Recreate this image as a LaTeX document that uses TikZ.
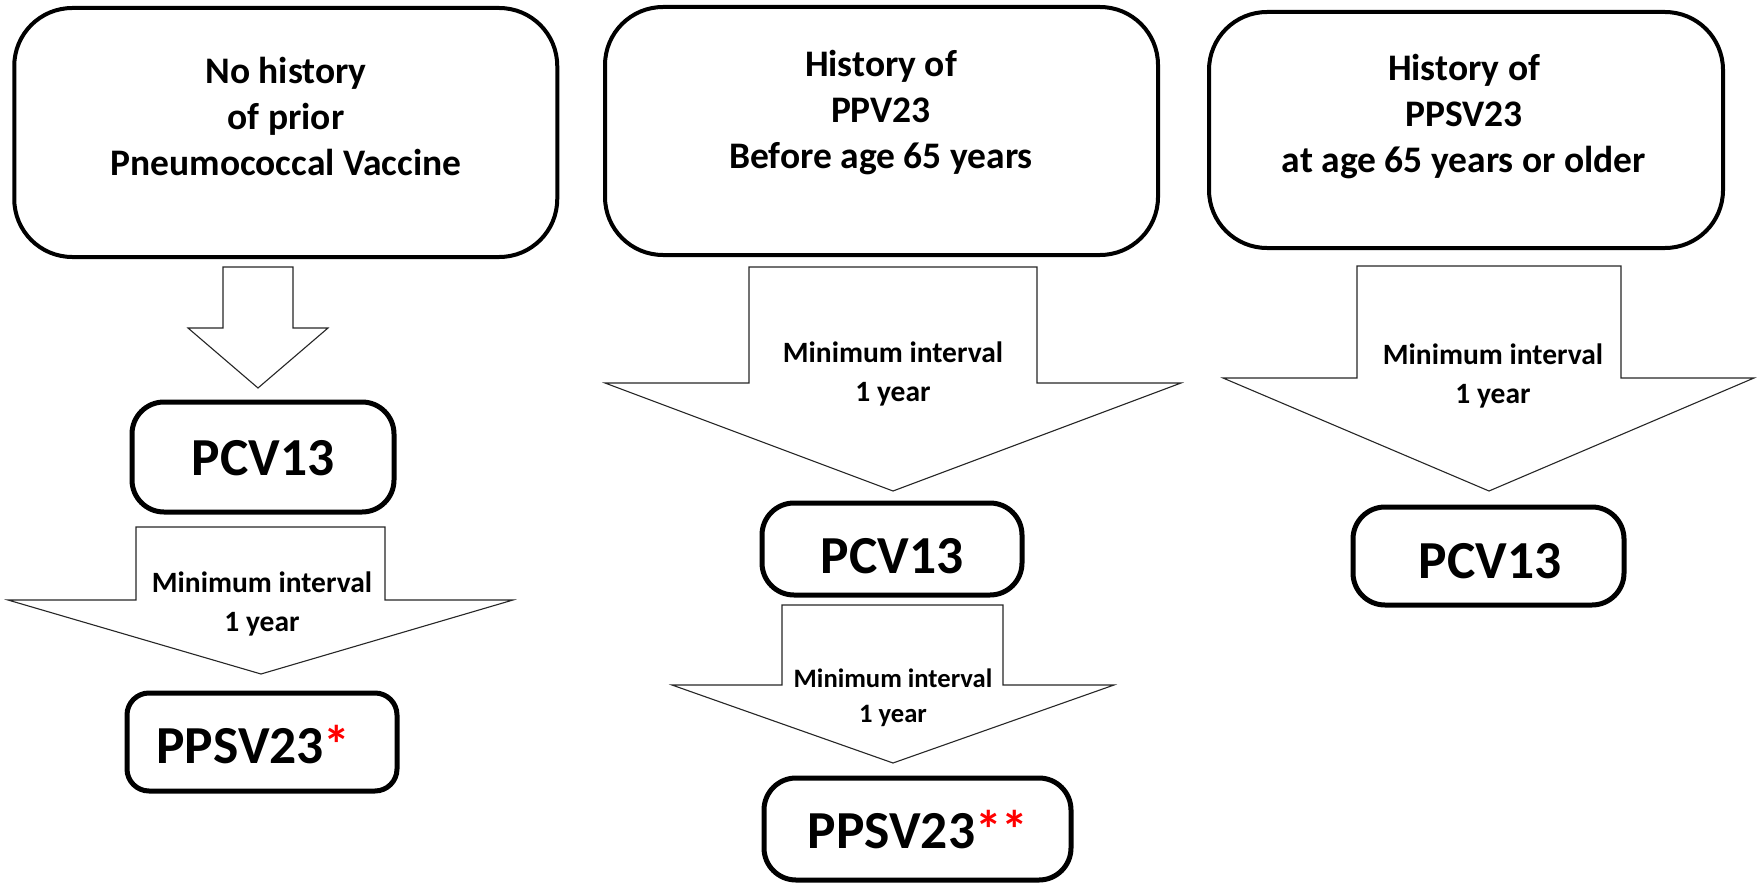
\documentclass[tikz,border=0pt]{standalone}
\usepackage{fontspec}
\setmainfont{Carlito}
\begin{document}
\begin{tikzpicture}[x=1pt,y=-1pt,
  bigbox/.style={draw, line width=4pt, rounded corners=58pt, inner sep=0pt},
  vacbox/.style={draw, line width=5pt, rounded corners=32pt, inner sep=0pt},
  blockarrow/.style={draw=black!85, line width=1.1pt, fill=white, line join=miter},
  ttl/.style={align=center, font=\bfseries\fontsize{37.5}{46}\selectfont, inner sep=0pt},
  vac/.style={anchor=base, font=\bfseries\fontsize{53.5}{60}\selectfont, inner sep=0pt},
  intv/.style={align=center, font=\bfseries\fontsize{29.5}{39}\selectfont, inner sep=0pt},
  intvs/.style={align=center, font=\bfseries\fontsize{26.6}{35}\selectfont, inner sep=0pt}]
\useasboundingbox (0,0) rectangle (1758,883);

% top boxes
\node[bigbox, minimum width=543pt, minimum height=249pt] (h1) at (285.75,132.5) {};
\node[ttl] (t1) at (286,116) {No history\\of prior\\Pneumococcal Vaccine};
\node[bigbox, minimum width=553pt, minimum height=248pt] (h2) at (881.5,131) {};
\node[ttl] (t2) at (881,112.5) {History of\\PPV23\\Before age 65 years};
\node[bigbox, minimum width=514pt, minimum height=236pt] (h3) at (1466,130) {};
\node[ttl] (t3) at (1464,116.5) {History of\\PPSV23\\at age 65 years or older};

% block arrows
\draw[blockarrow] (223,267) -- (293,267) -- (293,328) -- (328,328) -- (258,388) -- (188,328) -- (223,328) -- cycle;
\draw[blockarrow] (136,527) -- (385,527) -- (385,600) -- (513,600) -- (261,674) -- (8,600) -- (136,600) -- cycle;
\draw[blockarrow] (749,267) -- (1037,267) -- (1037,383) -- (1181,383) -- (893,491) -- (605,383) -- (749,383) -- cycle;
\draw[blockarrow] (782,605) -- (1003,605) -- (1003,685) -- (1114,685) -- (893,763) -- (672,685) -- (782,685) -- cycle;
\draw[blockarrow] (1357,266) -- (1621,266) -- (1621,378) -- (1754,378) -- (1489,491) -- (1223,378) -- (1357,378) -- cycle;

\node[intv] (i2) at (262,603.5) {Minimum interval\\1 year};
\node[intv] (i3) at (893,374) {Minimum interval\\1 year};
\node[intvs] (i4) at (893,698) {Minimum interval\\1 year};
\node[intv] (i5) at (1493,376) {Minimum interval\\1 year};

% vaccine boxes
\node[vacbox, minimum width=262pt, minimum height=110pt] (p1) at (263,457) {};
\node[vac] (p1t) at (263,475) {PCV13};
\node[vacbox, rounded corners=22pt, minimum width=270pt, minimum height=98pt] (s1) at (262,742) {};
\node[vac] (s1t) at (253.5,763) {PPSV23\textcolor{red}{*}};
\node[vacbox, minimum width=260pt, minimum height=92pt] (p2) at (892,549) {};
\node[vac] (p2t) at (892,573) {PCV13};
\node[vacbox, minimum width=307pt, minimum height=102pt] (s2) at (917.5,829) {};
\node[vac] (s2t) at (918,848) {PPSV23\textcolor{red}{**}};
\node[vacbox, minimum width=271pt, minimum height=98pt] (p3) at (1488.5,556) {};
\node[vac] (p3t) at (1490,578) {PCV13};
\end{tikzpicture}
\end{document}
